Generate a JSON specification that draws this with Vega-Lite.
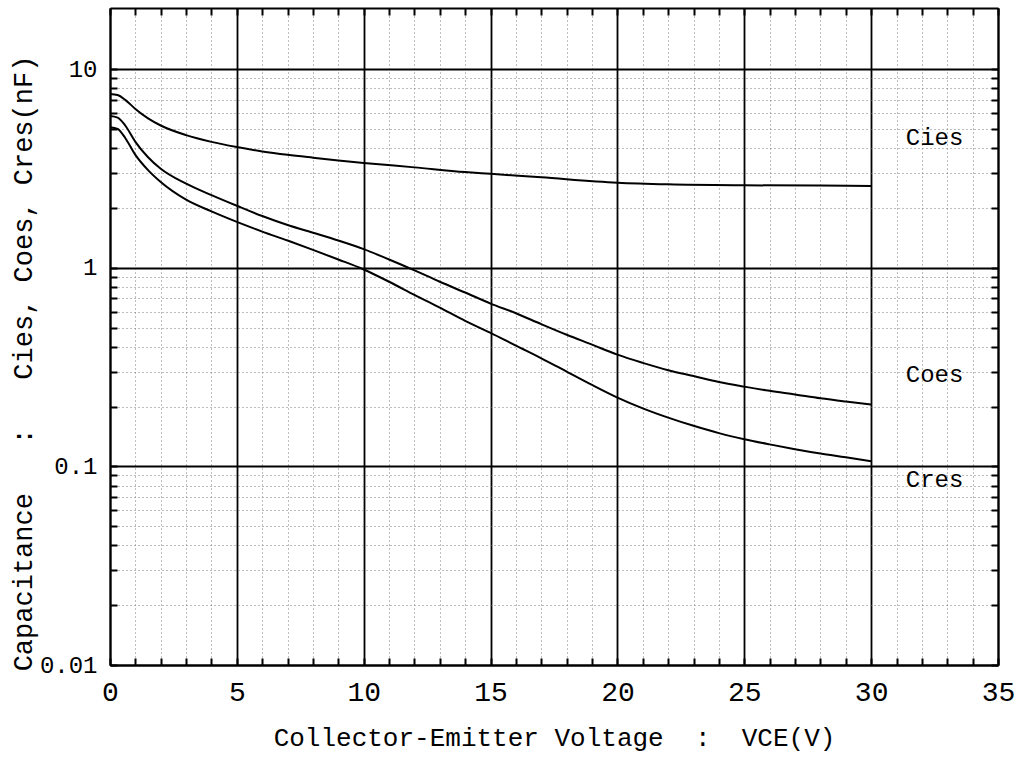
{
  "$schema": "https://vega.github.io/schema/vega-lite/v6.json",
  "autosize": "none",
  "width": 888,
  "height": 657,
  "padding": {"left": 110, "top": 8, "right": 27, "bottom": 97},
  "background": "white",
  "config": {"view": {"stroke": null}},
  "datasets": {
    "curves": [
      {"series": "Cies", "vce": 0, "c": 7.5},
      {"series": "Cies", "vce": 0.3, "c": 7.4},
      {"series": "Cies", "vce": 0.6, "c": 7.0},
      {"series": "Cies", "vce": 1, "c": 6.3},
      {"series": "Cies", "vce": 1.5, "c": 5.65},
      {"series": "Cies", "vce": 2, "c": 5.2},
      {"series": "Cies", "vce": 3, "c": 4.65},
      {"series": "Cies", "vce": 4, "c": 4.3},
      {"series": "Cies", "vce": 5, "c": 4.05},
      {"series": "Cies", "vce": 6, "c": 3.85},
      {"series": "Cies", "vce": 7, "c": 3.7},
      {"series": "Cies", "vce": 8, "c": 3.58},
      {"series": "Cies", "vce": 9, "c": 3.47},
      {"series": "Cies", "vce": 10, "c": 3.37},
      {"series": "Cies", "vce": 12, "c": 3.2},
      {"series": "Cies", "vce": 14, "c": 3.03},
      {"series": "Cies", "vce": 15, "c": 2.97},
      {"series": "Cies", "vce": 17, "c": 2.85},
      {"series": "Cies", "vce": 20, "c": 2.68},
      {"series": "Cies", "vce": 22, "c": 2.63},
      {"series": "Cies", "vce": 25, "c": 2.6},
      {"series": "Cies", "vce": 28, "c": 2.59},
      {"series": "Cies", "vce": 30, "c": 2.58},
      {"series": "Coes", "vce": 0, "c": 5.8},
      {"series": "Coes", "vce": 0.3, "c": 5.7},
      {"series": "Coes", "vce": 0.6, "c": 5.2},
      {"series": "Coes", "vce": 1, "c": 4.3},
      {"series": "Coes", "vce": 1.5, "c": 3.6},
      {"series": "Coes", "vce": 2, "c": 3.15},
      {"series": "Coes", "vce": 3, "c": 2.65},
      {"series": "Coes", "vce": 4, "c": 2.32},
      {"series": "Coes", "vce": 5, "c": 2.05},
      {"series": "Coes", "vce": 6, "c": 1.82},
      {"series": "Coes", "vce": 7, "c": 1.64},
      {"series": "Coes", "vce": 8, "c": 1.5},
      {"series": "Coes", "vce": 9, "c": 1.37},
      {"series": "Coes", "vce": 10, "c": 1.24},
      {"series": "Coes", "vce": 11, "c": 1.1},
      {"series": "Coes", "vce": 12, "c": 0.97},
      {"series": "Coes", "vce": 13, "c": 0.85},
      {"series": "Coes", "vce": 14, "c": 0.75},
      {"series": "Coes", "vce": 15, "c": 0.66},
      {"series": "Coes", "vce": 16, "c": 0.59},
      {"series": "Coes", "vce": 17, "c": 0.52},
      {"series": "Coes", "vce": 18, "c": 0.46},
      {"series": "Coes", "vce": 19, "c": 0.41},
      {"series": "Coes", "vce": 20, "c": 0.365},
      {"series": "Coes", "vce": 21, "c": 0.332},
      {"series": "Coes", "vce": 22, "c": 0.305},
      {"series": "Coes", "vce": 23, "c": 0.285},
      {"series": "Coes", "vce": 24, "c": 0.266},
      {"series": "Coes", "vce": 25, "c": 0.252},
      {"series": "Coes", "vce": 26, "c": 0.24},
      {"series": "Coes", "vce": 27, "c": 0.23},
      {"series": "Coes", "vce": 28, "c": 0.22},
      {"series": "Coes", "vce": 29, "c": 0.212},
      {"series": "Coes", "vce": 30, "c": 0.205},
      {"series": "Cres", "vce": 0, "c": 5.1},
      {"series": "Cres", "vce": 0.3, "c": 5.0},
      {"series": "Cres", "vce": 0.6, "c": 4.5},
      {"series": "Cres", "vce": 1, "c": 3.7},
      {"series": "Cres", "vce": 1.5, "c": 3.1},
      {"series": "Cres", "vce": 2, "c": 2.7},
      {"series": "Cres", "vce": 3, "c": 2.2},
      {"series": "Cres", "vce": 4, "c": 1.92},
      {"series": "Cres", "vce": 5, "c": 1.7},
      {"series": "Cres", "vce": 6, "c": 1.52},
      {"series": "Cres", "vce": 7, "c": 1.37},
      {"series": "Cres", "vce": 8, "c": 1.23},
      {"series": "Cres", "vce": 9, "c": 1.1},
      {"series": "Cres", "vce": 10, "c": 0.98},
      {"series": "Cres", "vce": 11, "c": 0.85},
      {"series": "Cres", "vce": 12, "c": 0.73},
      {"series": "Cres", "vce": 13, "c": 0.63},
      {"series": "Cres", "vce": 14, "c": 0.54},
      {"series": "Cres", "vce": 15, "c": 0.47},
      {"series": "Cres", "vce": 16, "c": 0.405},
      {"series": "Cres", "vce": 17, "c": 0.35},
      {"series": "Cres", "vce": 18, "c": 0.3},
      {"series": "Cres", "vce": 19, "c": 0.257},
      {"series": "Cres", "vce": 20, "c": 0.222},
      {"series": "Cres", "vce": 21, "c": 0.196},
      {"series": "Cres", "vce": 22, "c": 0.176},
      {"series": "Cres", "vce": 23, "c": 0.16},
      {"series": "Cres", "vce": 24, "c": 0.147},
      {"series": "Cres", "vce": 25, "c": 0.137},
      {"series": "Cres", "vce": 26, "c": 0.129},
      {"series": "Cres", "vce": 27, "c": 0.122},
      {"series": "Cres", "vce": 28, "c": 0.116},
      {"series": "Cres", "vce": 29, "c": 0.111},
      {"series": "Cres", "vce": 30, "c": 0.106}
    ],
    "labels": [
      {"label": "Cies", "vce": 32.5, "c": 4.5},
      {"label": "Coes", "vce": 32.5, "c": 0.29},
      {"label": "Cres", "vce": 32.5, "c": 0.085}
    ]
  },
  "layer": [
    {
      "data": {"name": "curves"},
      "mark": {"type": "line", "color": "black", "strokeWidth": 2, "interpolate": "monotone"},
      "encoding": {
        "x": {
          "field": "vce", "type": "quantitative",
          "scale": {"domain": [0, 35], "nice": false, "zero": false},
          "axis": {
            "orient": "bottom",
            "values": [0,1,2,3,4,5,6,7,8,9,10,11,12,13,14,15,16,17,18,19,20,21,22,23,24,25,26,27,28,29,30,31,32,33,34,35],
            "labelExpr": "datum.value % 5 === 0 ? datum.label : ''",
            "grid": true,
            "gridColor": {"condition": {"test": "datum.value % 5 === 0", "value": "#000000"}, "value": "#7a7a7a"},
            "gridDash": {"condition": {"test": "datum.value % 5 === 0", "value": []}, "value": [1, 3]},
            "gridWidth": {"condition": {"test": "datum.value % 5 === 0", "value": 1.8}, "value": 1},
            "tickSize": -7, "tickColor": "#000000", "tickWidth": 2,
            "domainColor": "#000000", "domainWidth": 2,
            "labelFont": "Liberation Mono", "labelFontSize": 28, "labelColor": "#000000",
            "labelPadding": 20, "labelFlush": false, "labelOverlap": false,
            "title": "Collector-Emitter Voltage\u00a0\u00a0:\u00a0\u00a0VCE(V)",
            "titleFont": "Liberation Mono", "titleFontSize": 26, "titleFontWeight": "normal", "titleColor": "#000000",
            "titlePadding": 18
          }
        },
        "y": {
          "field": "c", "type": "quantitative",
          "scale": {"type": "log", "domain": [0.01, 20.3], "nice": false},
          "axis": {
            "orient": "left",
            "values": [0.01,0.02,0.03,0.04,0.05,0.06,0.07,0.08,0.09,0.1,0.2,0.3,0.4,0.5,0.6,0.7,0.8,0.9,1,2,3,4,5,6,7,8,9,10],
            "format": "~g",
            "labelExpr": "indexof([0.01,0.1,1,10], datum.value) >= 0 ? datum.label : ''",
            "grid": true,
            "gridColor": {"condition": {"test": "indexof([0.01,0.1,1,10], datum.value) >= 0", "value": "#000000"}, "value": "#7a7a7a"},
            "gridDash": {"condition": {"test": "indexof([0.01,0.1,1,10], datum.value) >= 0", "value": []}, "value": [1, 3]},
            "gridWidth": {"condition": {"test": "indexof([0.01,0.1,1,10], datum.value) >= 0", "value": 1.8}, "value": 1},
            "tickSize": -7, "tickColor": "#000000", "tickWidth": 2,
            "domainColor": "#000000", "domainWidth": 2,
            "labelFont": "Liberation Mono", "labelFontSize": 24, "labelColor": "#000000",
            "labelPadding": 20, "labelFlush": false, "labelOverlap": false,
            "title": "Capacitance\u00a0\u00a0\u00a0:\u00a0\u00a0\u00a0Cies,\u00a0Coes,\u00a0Cres(nF)",
            "titleFont": "Liberation Mono", "titleFontSize": 27, "titleFontWeight": "normal", "titleColor": "#000000",
            "titleX": -73,
            "titleY": 355,
            "titlePadding": 2
          }
        },
        "detail": {"field": "series", "type": "nominal"}
      }
    },
    {
      "data": {"name": "labels"},
      "mark": {"type": "text", "font": "Liberation Mono", "fontSize": 24, "color": "#000000", "align": "center", "baseline": "middle"},
      "encoding": {
        "x": {
          "field": "vce", "type": "quantitative",
          "axis": {
            "orient": "top",
            "values": [0,1,2,3,4,5,6,7,8,9,10,11,12,13,14,15,16,17,18,19,20,21,22,23,24,25,26,27,28,29,30,31,32,33,34,35],
            "labels": false, "grid": false, "title": null,
            "tickSize": -7, "tickColor": "#000000", "tickWidth": 2,
            "domainColor": "#000000", "domainWidth": 2
          }
        },
        "y": {
          "field": "c", "type": "quantitative",
          "axis": {
            "orient": "right",
            "values": [0.01,0.02,0.03,0.04,0.05,0.06,0.07,0.08,0.09,0.1,0.2,0.3,0.4,0.5,0.6,0.7,0.8,0.9,1,2,3,4,5,6,7,8,9,10],
            "labels": false, "grid": false, "title": null,
            "tickSize": -7, "tickColor": "#000000", "tickWidth": 2,
            "domainColor": "#000000", "domainWidth": 2
          }
        },
        "text": {"field": "label", "type": "nominal"}
      }
    }
  ],
  "resolve": {"axis": {"x": "independent", "y": "independent"}}
}
